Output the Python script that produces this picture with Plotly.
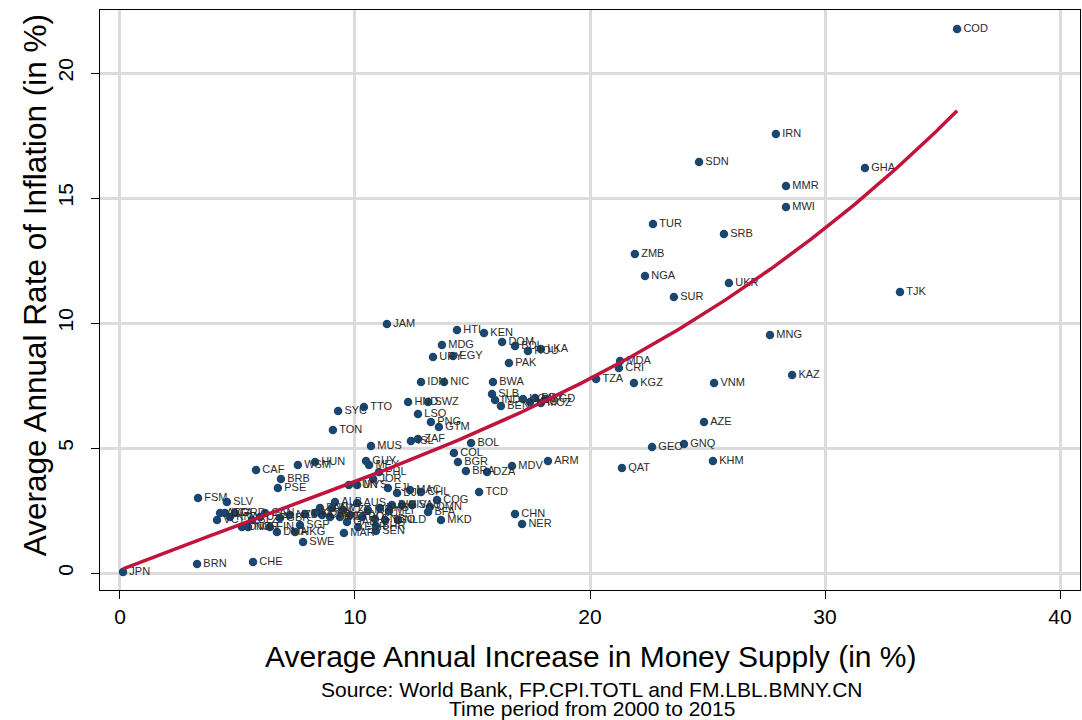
import numpy as np
import plotly.graph_objects as go

# Country codes, average annual money-supply growth (%) and inflation (%), 2000-2015
codes = [
    "COD", "IRN", "SDN", "GHA", "MMR", "MWI", "TUR", "SRB", "ZMB", "NGA",
    "UKR", "SUR", "TJK", "MNG", "JAM", "HTI", "KEN", "DOM", "BDI", "ROU",
    "LKA", "MDG", "URY", "EGY", "PAK", "MDA", "CRI", "TZA", "KGZ", "VNM",
    "KAZ", "IDN", "NIC", "BWA", "SLB", "IND", "BEN", "UGA", "LAO", "PRY",
    "MOZ", "BGD", "HND", "SWZ", "SYC", "TTO", "LSO", "PNG", "GTM", "TON",
    "MUS", "ISL", "ZAF", "BOL", "COL", "BGR", "BRA", "DZA", "MDV", "ARM",
    "GEO", "GNQ", "AZE", "KHM", "QAT", "TCD", "CHN", "NER", "MKD", "COG",
    "CHL", "MAC", "OMN", "BFA", "HUN", "WSM", "CAF", "BRB", "PSE", "GUY",
    "MEX", "PHL", "JOR", "TUN", "MYS", "FJI", "DJI", "FSM", "SLV", "VCT",
    "ATG", "LCA", "KNA", "GRD", "DNK", "NOR", "BLZ", "USA", "CAN", "FIN",
    "DMA", "GBR", "NZL", "HKG", "THA", "SGP", "SWE", "KOR", "ALB", "AUS",
    "KWT", "CZE", "CPV", "ISR", "BHS", "BIH", "CIV", "SAU", "CYP", "PRT",
    "MLT", "GAB", "PAN", "MLI", "GNB", "BHR", "SEN", "MAR", "ESP", "TGO",
    "NLD", "JPN", "BRN", "CHE", "POL",
]
money_growth = [
    35.62, 27.91, 24.64, 31.70, 28.34, 28.34, 22.68, 25.70, 21.91, 22.34,
    25.91, 23.57, 33.19, 27.66, 11.36, 14.34, 15.49, 16.26, 16.81, 17.36,
    17.91, 13.70, 13.32, 14.17, 16.55, 21.28, 21.23, 20.26, 21.87, 25.28,
    28.60, 12.81, 13.79, 15.87, 15.83, 15.96, 16.21, 17.15, 17.45, 17.66,
    17.91, 18.09, 12.26, 13.11, 9.28, 10.38, 12.68, 13.23, 13.57, 9.06,
    10.68, 12.38, 12.68, 14.94, 14.21, 14.38, 14.72, 15.62, 16.68, 18.21,
    22.64, 24.00, 24.85, 25.23, 21.36, 15.28, 16.81, 17.11, 13.66, 13.49,
    12.81, 12.34, 13.19, 13.11, 8.30, 7.57, 5.79, 6.85, 6.72, 10.47,
    10.60, 11.02, 10.77, 9.74, 10.09, 11.40, 11.79, 3.32, 4.55, 4.13,
    4.26, 4.47, 4.68, 4.89, 5.19, 5.45, 5.62, 5.96, 6.17, 6.38,
    6.68, 6.81, 7.23, 7.45, 7.87, 7.66, 7.79, 8.30, 9.15, 10.09,
    9.02, 9.49, 9.79, 10.55, 11.06, 11.57, 12.00, 12.43, 8.60, 8.94,
    9.36, 9.66, 8.51, 11.45, 10.85, 10.89, 10.89, 9.53, 10.13, 11.28,
    11.83, 0.13, 3.28, 5.66, 10.30,
]
inflation = [
    21.76, 17.56, 16.44, 16.20, 15.48, 14.64, 13.96, 13.56, 12.76, 11.88,
    11.60, 11.04, 11.24, 9.52, 9.96, 9.72, 9.60, 9.24, 9.08, 8.88,
    8.96, 9.12, 8.64, 8.68, 8.40, 8.48, 8.20, 7.76, 7.60, 7.60,
    7.92, 7.64, 7.64, 7.64, 7.16, 6.92, 6.68, 6.96, 6.84, 7.00,
    6.80, 6.96, 6.84, 6.84, 6.48, 6.64, 6.36, 6.04, 5.84, 5.72,
    5.08, 5.28, 5.36, 5.20, 4.80, 4.44, 4.08, 4.04, 4.28, 4.48,
    5.04, 5.16, 6.04, 4.48, 4.20, 3.24, 2.36, 1.96, 2.12, 2.92,
    3.24, 3.32, 2.64, 2.44, 4.44, 4.32, 4.12, 3.76, 3.40, 4.48,
    4.32, 4.04, 3.76, 3.52, 3.52, 3.40, 3.20, 3.00, 2.84, 2.12,
    2.40, 2.40, 2.24, 2.40, 1.84, 1.84, 2.12, 2.24, 2.40, 1.84,
    1.64, 2.20, 2.32, 1.64, 2.36, 1.92, 1.24, 2.40, 2.84, 2.80,
    2.60, 2.52, 2.32, 2.52, 2.60, 2.72, 2.72, 2.72, 2.32, 2.24,
    2.24, 2.04, 2.60, 2.48, 2.16, 1.88, 1.68, 1.60, 1.84, 2.12,
    2.12, 0.04, 0.36, 0.44, 2.24,
]

x_ticks = [0, 10, 20, 30, 40]
y_ticks = [0, 5, 10, 15, 20]

# Polynomial fit of inflation on money growth over the observed range
xs = np.array(money_growth)
ys = np.array(inflation)
coef = np.polyfit(xs, ys, 3)
x_fit = np.linspace(xs.min(), xs.max(), 200)
y_fit = np.polyval(coef, x_fit)

font_family = "Liberation Sans, Arial, sans-serif"

fig = go.Figure()
fig.add_trace(go.Scatter(
    x=money_growth, y=inflation, text=codes,
    mode="markers+text", textposition="middle right",
    marker=dict(color="#1a476f", size=8.5),
    textfont=dict(family=font_family, size=11, color="#2b2b2b"),
    hoverinfo="text", showlegend=False,
))
fig.add_trace(go.Scatter(
    x=x_fit, y=y_fit, mode="lines",
    line=dict(color="#c0143c", width=3.5),
    hoverinfo="skip", showlegend=False,
))

axis_common = dict(
    showline=True, linecolor="black", linewidth=1, mirror=True,
    ticks="outside", ticklen=8, tickcolor="black", tickwidth=1,
    showgrid=True, gridcolor="#dcdcdc", gridwidth=3, zeroline=False,
    tickfont=dict(family=font_family, size=21, color="black"),
)

fig.update_layout(
    width=1082, height=720,
    margin=dict(l=100, r=2, t=10, b=130),
    paper_bgcolor="white", plot_bgcolor="white",
    xaxis=dict(range=[-0.85, 40.85], tickvals=x_ticks, **axis_common),
    yaxis=dict(range=[-0.68, 22.52], tickvals=y_ticks, tickangle=-90,
               ticklabelstandoff=10, **axis_common),
    annotations=[
        dict(text="Average Annual Increase in Money Supply (in %)", xref="paper", yref="paper",
             x=0.5015, y=-0.1155, xanchor="center", yanchor="middle", showarrow=False,
             font=dict(family=font_family, size=30, color="black")),
        dict(text="Average Annual Rate of Inflation (in %)", xref="paper", yref="paper",
             x=-0.066, y=0.526, xanchor="center", yanchor="middle", textangle=-90, showarrow=False,
             font=dict(family=font_family, size=31.5, color="black")),
        dict(text="Source: World Bank, FP.CPI.TOTL and FM.LBL.BMNY.CN", xref="paper", yref="paper",
             x=0.502, y=-0.172, xanchor="center", yanchor="middle", showarrow=False,
             font=dict(family=font_family, size=21, color="black")),
        dict(text="Time period from 2000 to 2015", xref="paper", yref="paper",
             x=0.502, y=-0.205, xanchor="center", yanchor="middle", showarrow=False,
             font=dict(family=font_family, size=21, color="black")),
    ],
)

fig.write_html("out.html")
